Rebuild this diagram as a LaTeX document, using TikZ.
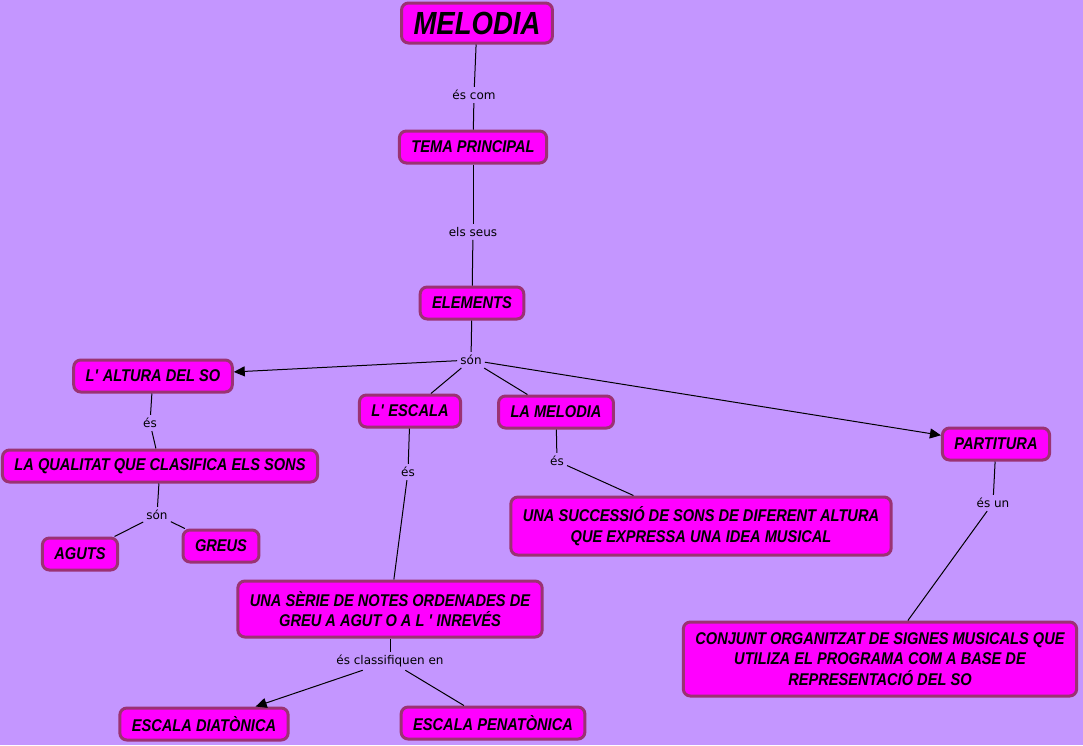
\documentclass[tikz,border=0pt]{standalone}
\usepackage{fontspec}
\setmainfont{Liberation Sans}
\newfontfamily\conceptfont[FakeStretch=0.86]{Liberation Sans}
\newfontfamily\linkfont{DejaVu Sans}
\usetikzlibrary{arrows.meta}
\definecolor{mapbg}{RGB}{196,150,255}
\definecolor{conceptfill}{RGB}{255,0,255}
\definecolor{conceptedge}{RGB}{155,50,115}

\begin{document}
\begin{tikzpicture}[x=1pt, y=-1pt, >={Triangle[length=11pt,width=10pt]},
    concept/.style={draw=conceptedge, fill=conceptfill, line width=3pt, rounded corners=7pt,
      inner xsep=12pt, minimum height=32pt, align=center,
      font=\conceptfont\bfseries\itshape\fontsize{17}{20.5}\selectfont},
    linkword/.style={inner sep=3pt, font=\linkfont\fontsize{12}{14}\selectfont},
    link/.style={line width=1pt}]
    % Background and page size
    \fill[mapbg] (0,0) rectangle (1083,745);
    \useasboundingbox (0,0) rectangle (1083,745);

    % Main concepts
    \node[concept, font=\conceptfont\bfseries\itshape\fontsize{32}{36}\selectfont, minimum height=40pt] (melodia) at (477,23) {MELODIA};
    \node[concept] (tema) at (473,147) {TEMA PRINCIPAL};
    \node[concept] (elements) at (472,303) {ELEMENTS};

    % Elements
    \node[concept] (altura) at (153,376) {L\textquotesingle\ ALTURA DEL SO};
    \node[concept] (escala) at (410,411) {L\textquotesingle\ ESCALA};
    \node[concept] (lamelodia) at (556,412) {LA MELODIA};
    \node[concept] (partitura) at (996,444) {PARTITURA};

    % Definitions
    \node[concept] (qualitat) at (160,466) {LA QUALITAT QUE CLASIFICA ELS SONS};
    \node[concept] (aguts) at (80,554) {AGUTS};
    \node[concept] (greus) at (221,546) {GREUS};
    \node[concept, minimum height=58pt] (successio) at (701,526) {UNA SUCCESSIÓ DE SONS DE DIFERENT ALTURA\\QUE EXPRESSA UNA IDEA MUSICAL};
    \node[concept, minimum height=56pt] (serie) at (390,609) {UNA SÈRIE DE NOTES ORDENADES DE\\GREU A AGUT O A L \textquotesingle\ INREVÉS};
    \node[concept, minimum height=74pt] (conjunt) at (880,659) {CONJUNT ORGANITZAT DE SIGNES MUSICALS QUE\\UTILIZA EL PROGRAMA COM A BASE DE\\REPRESENTACIÓ DEL SO};
    \node[concept] (diatonica) at (204,724) {ESCALA DIATÒNICA};
    \node[concept] (penatonica) at (493,723) {ESCALA PENATÒNICA};

    % Linking words
    \node[linkword] (escom) at (474,95) {és com};
    \node[linkword] (elsseus) at (473,232) {els seus};
    \node[linkword] (son) at (471,360) {són};
    \node[linkword] (esA) at (150,423) {és};
    \node[linkword] (esB) at (408,472) {és};
    \node[linkword] (esC) at (557,461) {és};
    \node[linkword] (esun) at (993,503) {és un};
    \node[linkword] (sonB) at (157,515) {són};
    \node[linkword] (classif) at (390,661) {és classifiquen en};

    % Connectors
    \draw[link] (melodia) -- (escom);
    \draw[link] (escom) -- (tema);
    \draw[link] (tema) -- (elsseus);
    \draw[link] (elsseus) -- (elements);
    \draw[link] (elements) -- (son);
    \draw[link, ->] (son) -- (altura);
    \draw[link] (son) -- (escala);
    \draw[link] (son) -- (lamelodia);
    \draw[link, ->] (son) -- (partitura);
    \draw[link] (altura) -- (esA);
    \draw[link] (esA) -- (qualitat);
    \draw[link] (qualitat) -- (sonB);
    \draw[link] (sonB) -- (aguts);
    \draw[link] (sonB) -- (greus);
    \draw[link] (escala) -- (esB);
    \draw[link] (esB) -- (serie);
    \draw[link] (serie) -- (classif);
    \draw[link, ->] (classif) -- (diatonica);
    \draw[link] (classif) -- (penatonica);
    \draw[link] (lamelodia) -- (esC);
    \draw[link] (esC) -- (successio);
    \draw[link] (partitura) -- (esun);
    \draw[link] (esun) -- (conjunt);
\end{tikzpicture}
\end{document}
